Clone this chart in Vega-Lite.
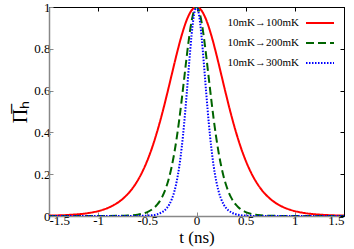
{
  "$schema": "https://vega.github.io/schema/vega-lite/v6.json",
  "width": 295,
  "height": 209,
  "autosize": "none",
  "padding": {"left": 49, "top": 7, "right": 10, "bottom": 33},
  "background": "white",
  "config": {
    "view": {"stroke": "black", "strokeWidth": 1},
    "font": "Liberation Serif",
    "axis": {"grid": false, "labelFont": "Liberation Serif", "titleFont": "Liberation Serif", "labelColor": "black", "titleColor": "black", "titleFontWeight": "normal"}
  },
  "datasets": {
    "curves": [
      {"t": -1.5, "v": 0.0018, "s": "10mK→100mK"},
      {"t": -1.45, "v": 0.0024, "s": "10mK→100mK"},
      {"t": -1.4, "v": 0.003, "s": "10mK→100mK"},
      {"t": -1.35, "v": 0.0039, "s": "10mK→100mK"},
      {"t": -1.3, "v": 0.0051, "s": "10mK→100mK"},
      {"t": -1.25, "v": 0.0066, "s": "10mK→100mK"},
      {"t": -1.2, "v": 0.0085, "s": "10mK→100mK"},
      {"t": -1.15, "v": 0.0109, "s": "10mK→100mK"},
      {"t": -1.1, "v": 0.0141, "s": "10mK→100mK"},
      {"t": -1.05, "v": 0.0182, "s": "10mK→100mK"},
      {"t": -1.0, "v": 0.0234, "s": "10mK→100mK"},
      {"t": -0.95, "v": 0.0302, "s": "10mK→100mK"},
      {"t": -0.9, "v": 0.0388, "s": "10mK→100mK"},
      {"t": -0.85, "v": 0.0499, "s": "10mK→100mK"},
      {"t": -0.8, "v": 0.064, "s": "10mK→100mK"},
      {"t": -0.75, "v": 0.0819, "s": "10mK→100mK"},
      {"t": -0.7, "v": 0.1046, "s": "10mK→100mK"},
      {"t": -0.65, "v": 0.133, "s": "10mK→100mK"},
      {"t": -0.6, "v": 0.1685, "s": "10mK→100mK"},
      {"t": -0.55, "v": 0.2122, "s": "10mK→100mK"},
      {"t": -0.5, "v": 0.2655, "s": "10mK→100mK"},
      {"t": -0.45, "v": 0.3292, "s": "10mK→100mK"},
      {"t": -0.4, "v": 0.4038, "s": "10mK→100mK"},
      {"t": -0.35, "v": 0.4887, "s": "10mK→100mK"},
      {"t": -0.3, "v": 0.5821, "s": "10mK→100mK"},
      {"t": -0.25, "v": 0.6801, "s": "10mK→100mK"},
      {"t": -0.2, "v": 0.7771, "s": "10mK→100mK"},
      {"t": -0.15, "v": 0.8655, "s": "10mK→100mK"},
      {"t": -0.1, "v": 0.937, "s": "10mK→100mK"},
      {"t": -0.05, "v": 0.9838, "s": "10mK→100mK"},
      {"t": 0, "v": 1, "s": "10mK→100mK"},
      {"t": 0.05, "v": 0.9838, "s": "10mK→100mK"},
      {"t": 0.1, "v": 0.937, "s": "10mK→100mK"},
      {"t": 0.15, "v": 0.8655, "s": "10mK→100mK"},
      {"t": 0.2, "v": 0.7771, "s": "10mK→100mK"},
      {"t": 0.25, "v": 0.6801, "s": "10mK→100mK"},
      {"t": 0.3, "v": 0.5821, "s": "10mK→100mK"},
      {"t": 0.35, "v": 0.4887, "s": "10mK→100mK"},
      {"t": 0.4, "v": 0.4038, "s": "10mK→100mK"},
      {"t": 0.45, "v": 0.3292, "s": "10mK→100mK"},
      {"t": 0.5, "v": 0.2655, "s": "10mK→100mK"},
      {"t": 0.55, "v": 0.2122, "s": "10mK→100mK"},
      {"t": 0.6, "v": 0.1685, "s": "10mK→100mK"},
      {"t": 0.65, "v": 0.133, "s": "10mK→100mK"},
      {"t": 0.7, "v": 0.1046, "s": "10mK→100mK"},
      {"t": 0.75, "v": 0.0819, "s": "10mK→100mK"},
      {"t": 0.8, "v": 0.064, "s": "10mK→100mK"},
      {"t": 0.85, "v": 0.0499, "s": "10mK→100mK"},
      {"t": 0.9, "v": 0.0388, "s": "10mK→100mK"},
      {"t": 0.95, "v": 0.0302, "s": "10mK→100mK"},
      {"t": 1.0, "v": 0.0234, "s": "10mK→100mK"},
      {"t": 1.05, "v": 0.0182, "s": "10mK→100mK"},
      {"t": 1.1, "v": 0.0141, "s": "10mK→100mK"},
      {"t": 1.15, "v": 0.0109, "s": "10mK→100mK"},
      {"t": 1.2, "v": 0.0085, "s": "10mK→100mK"},
      {"t": 1.25, "v": 0.0066, "s": "10mK→100mK"},
      {"t": 1.3, "v": 0.0051, "s": "10mK→100mK"},
      {"t": 1.35, "v": 0.0039, "s": "10mK→100mK"},
      {"t": 1.4, "v": 0.003, "s": "10mK→100mK"},
      {"t": 1.45, "v": 0.0024, "s": "10mK→100mK"},
      {"t": 1.5, "v": 0.0018, "s": "10mK→100mK"},

      {"t": -1.5, "v": 0, "s": "10mK→200mK"},
      {"t": -1.25, "v": 0, "s": "10mK→200mK"},
      {"t": -1.0, "v": 0.0001, "s": "10mK→200mK"},
      {"t": -0.9, "v": 0.0003, "s": "10mK→200mK"},
      {"t": -0.8, "v": 0.0008, "s": "10mK→200mK"},
      {"t": -0.7, "v": 0.0022, "s": "10mK→200mK"},
      {"t": -0.65, "v": 0.0038, "s": "10mK→200mK"},
      {"t": -0.6, "v": 0.0065, "s": "10mK→200mK"},
      {"t": -0.55, "v": 0.0111, "s": "10mK→200mK"},
      {"t": -0.5, "v": 0.0189, "s": "10mK→200mK"},
      {"t": -0.45, "v": 0.032, "s": "10mK→200mK"},
      {"t": -0.425, "v": 0.0416, "s": "10mK→200mK"},
      {"t": -0.4, "v": 0.054, "s": "10mK→200mK"},
      {"t": -0.375, "v": 0.0699, "s": "10mK→200mK"},
      {"t": -0.35, "v": 0.0904, "s": "10mK→200mK"},
      {"t": -0.325, "v": 0.1164, "s": "10mK→200mK"},
      {"t": -0.3, "v": 0.1493, "s": "10mK→200mK"},
      {"t": -0.275, "v": 0.1906, "s": "10mK→200mK"},
      {"t": -0.25, "v": 0.2415, "s": "10mK→200mK"},
      {"t": -0.225, "v": 0.3034, "s": "10mK→200mK"},
      {"t": -0.2, "v": 0.3771, "s": "10mK→200mK"},
      {"t": -0.175, "v": 0.4623, "s": "10mK→200mK"},
      {"t": -0.15, "v": 0.5575, "s": "10mK→200mK"},
      {"t": -0.125, "v": 0.659, "s": "10mK→200mK"},
      {"t": -0.1, "v": 0.7609, "s": "10mK→200mK"},
      {"t": -0.075, "v": 0.8549, "s": "10mK→200mK"},
      {"t": -0.05, "v": 0.9317, "s": "10mK→200mK"},
      {"t": -0.025, "v": 0.9823, "s": "10mK→200mK"},
      {"t": 0, "v": 1, "s": "10mK→200mK"},
      {"t": 0.025, "v": 0.9823, "s": "10mK→200mK"},
      {"t": 0.05, "v": 0.9317, "s": "10mK→200mK"},
      {"t": 0.075, "v": 0.8549, "s": "10mK→200mK"},
      {"t": 0.1, "v": 0.7609, "s": "10mK→200mK"},
      {"t": 0.125, "v": 0.659, "s": "10mK→200mK"},
      {"t": 0.15, "v": 0.5575, "s": "10mK→200mK"},
      {"t": 0.175, "v": 0.4623, "s": "10mK→200mK"},
      {"t": 0.2, "v": 0.3771, "s": "10mK→200mK"},
      {"t": 0.225, "v": 0.3034, "s": "10mK→200mK"},
      {"t": 0.25, "v": 0.2415, "s": "10mK→200mK"},
      {"t": 0.275, "v": 0.1906, "s": "10mK→200mK"},
      {"t": 0.3, "v": 0.1493, "s": "10mK→200mK"},
      {"t": 0.325, "v": 0.1164, "s": "10mK→200mK"},
      {"t": 0.35, "v": 0.0904, "s": "10mK→200mK"},
      {"t": 0.375, "v": 0.0699, "s": "10mK→200mK"},
      {"t": 0.4, "v": 0.054, "s": "10mK→200mK"},
      {"t": 0.425, "v": 0.0416, "s": "10mK→200mK"},
      {"t": 0.45, "v": 0.032, "s": "10mK→200mK"},
      {"t": 0.5, "v": 0.0189, "s": "10mK→200mK"},
      {"t": 0.55, "v": 0.0111, "s": "10mK→200mK"},
      {"t": 0.6, "v": 0.0065, "s": "10mK→200mK"},
      {"t": 0.65, "v": 0.0038, "s": "10mK→200mK"},
      {"t": 0.7, "v": 0.0022, "s": "10mK→200mK"},
      {"t": 0.8, "v": 0.0008, "s": "10mK→200mK"},
      {"t": 0.9, "v": 0.0003, "s": "10mK→200mK"},
      {"t": 1.0, "v": 0.0001, "s": "10mK→200mK"},
      {"t": 1.25, "v": 0, "s": "10mK→200mK"},
      {"t": 1.5, "v": 0, "s": "10mK→200mK"},

      {"t": -1.5, "v": 0, "s": "10mK→300mK"},
      {"t": -1.0, "v": 0, "s": "10mK→300mK"},
      {"t": -0.7, "v": 0.0001, "s": "10mK→300mK"},
      {"t": -0.6, "v": 0.0004, "s": "10mK→300mK"},
      {"t": -0.5, "v": 0.0018, "s": "10mK→300mK"},
      {"t": -0.45, "v": 0.0039, "s": "10mK→300mK"},
      {"t": -0.4, "v": 0.0085, "s": "10mK→300mK"},
      {"t": -0.35, "v": 0.0182, "s": "10mK→300mK"},
      {"t": -0.325, "v": 0.0266, "s": "10mK→300mK"},
      {"t": -0.3, "v": 0.0388, "s": "10mK→300mK"},
      {"t": -0.275, "v": 0.0565, "s": "10mK→300mK"},
      {"t": -0.25, "v": 0.0819, "s": "10mK→300mK"},
      {"t": -0.225, "v": 0.118, "s": "10mK→300mK"},
      {"t": -0.2, "v": 0.1685, "s": "10mK→300mK"},
      {"t": -0.175, "v": 0.2376, "s": "10mK→300mK"},
      {"t": -0.15, "v": 0.3292, "s": "10mK→300mK"},
      {"t": -0.125, "v": 0.445, "s": "10mK→300mK"},
      {"t": -0.1, "v": 0.5821, "s": "10mK→300mK"},
      {"t": -0.075, "v": 0.7291, "s": "10mK→300mK"},
      {"t": -0.05, "v": 0.8655, "s": "10mK→300mK"},
      {"t": -0.025, "v": 0.9639, "s": "10mK→300mK"},
      {"t": 0, "v": 1, "s": "10mK→300mK"},
      {"t": 0.025, "v": 0.9639, "s": "10mK→300mK"},
      {"t": 0.05, "v": 0.8655, "s": "10mK→300mK"},
      {"t": 0.075, "v": 0.7291, "s": "10mK→300mK"},
      {"t": 0.1, "v": 0.5821, "s": "10mK→300mK"},
      {"t": 0.125, "v": 0.445, "s": "10mK→300mK"},
      {"t": 0.15, "v": 0.3292, "s": "10mK→300mK"},
      {"t": 0.175, "v": 0.2376, "s": "10mK→300mK"},
      {"t": 0.2, "v": 0.1685, "s": "10mK→300mK"},
      {"t": 0.225, "v": 0.118, "s": "10mK→300mK"},
      {"t": 0.25, "v": 0.0819, "s": "10mK→300mK"},
      {"t": 0.275, "v": 0.0565, "s": "10mK→300mK"},
      {"t": 0.3, "v": 0.0388, "s": "10mK→300mK"},
      {"t": 0.325, "v": 0.0266, "s": "10mK→300mK"},
      {"t": 0.35, "v": 0.0182, "s": "10mK→300mK"},
      {"t": 0.4, "v": 0.0085, "s": "10mK→300mK"},
      {"t": 0.45, "v": 0.0039, "s": "10mK→300mK"},
      {"t": 0.5, "v": 0.0018, "s": "10mK→300mK"},
      {"t": 0.6, "v": 0.0004, "s": "10mK→300mK"},
      {"t": 0.7, "v": 0.0001, "s": "10mK→300mK"},
      {"t": 1.0, "v": 0, "s": "10mK→300mK"},
      {"t": 1.5, "v": 0, "s": "10mK→300mK"}
    ]
  },
  "data": {"name": "curves"},
  "resolve": {"axis": {"x": "independent", "y": "independent"}},
  "layer": [
    {
      "mark": {"type": "line", "strokeWidth": 2, "interpolate": "monotone", "clip": true},
      "encoding": {
        "x": {
          "field": "t", "type": "quantitative",
          "scale": {"domain": [-1.5, 1.5], "nice": false, "zero": false},
          "axis": {
            "orient": "bottom", "values": [-1.5, -1, -0.5, 0, 0.5, 1, 1.5],
            "labelExpr": "'' + datum.value", "labelFontSize": 13, "labelPadding": 2,
            "tickSize": -4, "tickColor": "#888888", "domainColor": "#888888", "domainWidth": 1.5,
            "title": "t (ns)", "titleFontSize": 17, "titlePadding": 2
          }
        },
        "y": {
          "field": "v", "type": "quantitative",
          "scale": {"domain": [0, 1], "nice": false},
          "axis": {
            "orient": "left", "values": [0, 0.2, 0.4, 0.6, 0.8, 1],
            "labelExpr": "'' + datum.value", "labelFontSize": 13, "labelPadding": 3,
            "tickSize": -4, "tickColor": "#888888", "domainColor": "#888888", "domainWidth": 1.5,
            "title": "Π̅ₕ", "titleFontSize": 20, "titlePadding": 3
          }
        },
        "color": {
          "field": "s", "type": "nominal",
          "scale": {"domain": ["10mK→100mK", "10mK→200mK", "10mK→300mK"], "range": ["#ff0000", "#006400", "#0000ff"]},
          "legend": {
            "orient": "none", "legendX": 256, "legendY": 1, "title": null,
            "symbolType": "stroke", "symbolSize": 784, "symbolStrokeWidth": 2,
            "labelAlign": "right", "labelOffset": -36, "labelFont": "Liberation Serif", "labelFontSize": 11, "labelColor": "black",
            "rowPadding": -10, "padding": 0, "symbolOffset": 0
          }
        },
        "strokeDash": {
          "field": "s", "type": "nominal",
          "scale": {"domain": ["10mK→100mK", "10mK→200mK", "10mK→300mK"], "range": [[1, 0], [8, 4], [1.5, 1.5]]},
          "legend": null
        }
      }
    },
    {
      "mark": {"type": "line", "opacity": 0},
      "encoding": {
        "x": {
          "field": "t", "type": "quantitative",
          "axis": {"orient": "top", "values": [-1.5, -1, -0.5, 0, 0.5, 1, 1.5], "labels": false, "tickSize": -4, "tickColor": "black", "domainColor": "black", "title": null}
        },
        "y": {
          "field": "v", "type": "quantitative",
          "axis": {"orient": "right", "values": [0, 0.2, 0.4, 0.6, 0.8, 1], "labels": false, "tickSize": -4, "tickColor": "black", "domainColor": "black", "title": null}
        }
      }
    }
  ]
}
